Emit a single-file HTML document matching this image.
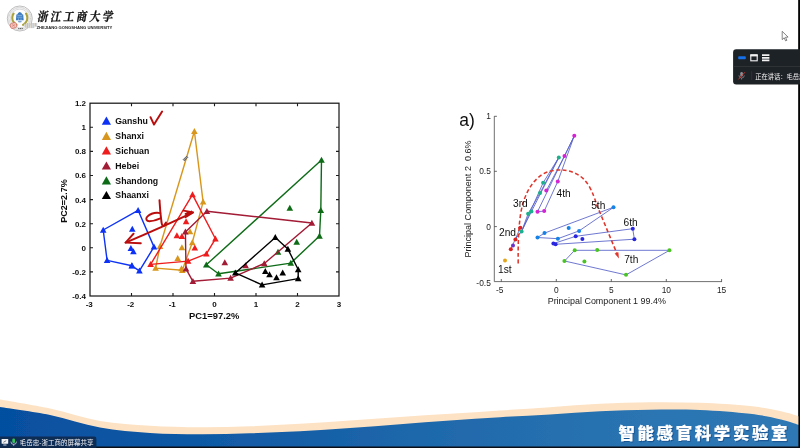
<!DOCTYPE html>
<html lang="zh"><head><meta charset="utf-8"><title>PCA</title>
<style>
html,body{margin:0;padding:0;background:#050505;}
body{width:800px;height:448px;overflow:hidden;position:relative;font-family:"Liberation Sans","Noto Sans CJK SC",sans-serif;}
svg{position:absolute;left:0;top:0;display:block}
text{font-family:"Liberation Sans","Noto Sans CJK SC",sans-serif}
.b{font-weight:bold}
.cj{font-family:"Liberation Sans","Noto Sans CJK SC",sans-serif}
.cs{font-family:"Liberation Serif","Noto Serif CJK SC",serif}
</style></head><body>
<svg width="800" height="448" viewBox="0 0 800 448">
<defs>
<linearGradient id="bg" x1="0" y1="0" x2="1" y2="0">
<stop offset="0" stop-color="#054f9f"/><stop offset="0.3" stop-color="#125ba6"/><stop offset="0.55" stop-color="#1f69ab"/><stop offset="0.8" stop-color="#2a74b2"/><stop offset="1" stop-color="#2f79b5"/>
</linearGradient>
<filter id="soft" x="-5%" y="-5%" width="110%" height="110%"><feGaussianBlur stdDeviation="0.6"/></filter>
<filter id="soft2" x="-20%" y="-20%" width="140%" height="140%"><feGaussianBlur stdDeviation="0.8"/></filter>
</defs>
<rect x="0" y="0" width="800" height="448" fill="#050505"/>
<rect x="0" y="0" width="798.4" height="446.5" fill="#ffffff"/>
<g filter="url(#soft)">

<path d="M0.00 399.50C8.33 401.00 33.33 404.92 50.00 408.50C66.67 412.08 83.33 418.12 100.00 421.00C116.67 423.88 133.33 424.75 150.00 425.80C166.67 426.85 183.33 427.22 200.00 427.30C216.67 427.38 233.33 426.88 250.00 426.30C266.67 425.72 283.33 424.77 300.00 423.80C316.67 422.83 333.33 421.63 350.00 420.50C366.67 419.37 383.33 418.12 400.00 417.00C416.67 415.88 433.33 414.88 450.00 413.80C466.67 412.72 483.33 411.60 500.00 410.50C516.67 409.40 533.33 408.32 550.00 407.20C566.67 406.08 583.33 404.63 600.00 403.80C616.67 402.97 633.33 402.37 650.00 402.20C666.67 402.03 683.33 402.17 700.00 402.80C716.67 403.43 736.50 404.58 750.00 406.00C763.50 407.42 772.93 409.58 781.00 411.30C789.07 413.02 795.50 415.47 798.40 416.30L806 417L806 455L-6 455L-6 399Z" fill="#fde2c4"/>
<path d="M0.00 407.00C8.33 408.33 33.33 411.58 50.00 415.00C66.67 418.42 83.33 424.50 100.00 427.50C116.67 430.50 133.33 431.87 150.00 433.00C166.67 434.13 183.33 434.25 200.00 434.30C216.67 434.35 233.33 433.80 250.00 433.30C266.67 432.80 283.33 432.18 300.00 431.30C316.67 430.42 333.33 429.17 350.00 428.00C366.67 426.83 383.33 425.55 400.00 424.30C416.67 423.05 433.33 421.68 450.00 420.50C466.67 419.32 483.33 418.22 500.00 417.20C516.67 416.18 533.33 415.38 550.00 414.40C566.67 413.42 583.33 412.08 600.00 411.30C616.67 410.52 633.33 409.92 650.00 409.70C666.67 409.48 683.33 409.32 700.00 410.00C716.67 410.68 736.50 412.23 750.00 413.80C763.50 415.37 772.93 417.58 781.00 419.40C789.07 421.22 795.50 423.82 798.40 424.70L806 426L806 455L-6 455L-6 406Z" fill="url(#bg)"/>
<text x="618.4" y="439.1" font-size="16.4" font-weight="900" fill="#0a3a78" stroke="#0a3a78" stroke-width="0.3" opacity="0.5" letter-spacing="2.7" class="cj" transform="translate(0.9,0.9)">智能感官科学实验室</text>
<text x="618.4" y="439.1" font-size="16.4" font-weight="900" fill="#ffffff" stroke="#ffffff" stroke-width="0.2" letter-spacing="2.7" class="cj">智能感官科学实验室</text>
<g>
<circle cx="19.8" cy="18.5" r="12.5" fill="#fdfdfd" stroke="#a4a4a4" stroke-width="0.7"/>
<circle cx="19.8" cy="18.5" r="10.9" fill="none" stroke="#8f8f8f" stroke-width="1.5" stroke-dasharray="0.55 0.5" opacity="0.5"/>
<circle cx="19.8" cy="18.5" r="9.4" fill="none" stroke="#b5b5b5" stroke-width="0.5"/>
<path d="M13.6 13.6C11.2 17.2 12 22.2 16.6 24.8" fill="none" stroke="#a9a23c" stroke-width="2.1" stroke-linecap="round" stroke-dasharray="1.6 0.5"/>
<path d="M26 13.6C28.4 17.2 27.6 22.2 23 24.8" fill="none" stroke="#a9a23c" stroke-width="2.1" stroke-linecap="round" stroke-dasharray="1.6 0.5"/>
<path d="M15.9 20.2L16.4 14.6L17.6 14.2L18 12.9L19.8 12L21.6 12.9L22 14.2L23.2 14.6L23.7 20.2Z" fill="#3b7cc2"/>
<path d="M17.4 15.4h4.8M17.2 17.2h5.2M18.6 18.4v1.8M21 18.4v1.8" stroke="#b9d3ee" stroke-width="0.55" fill="none"/>
<ellipse cx="19.8" cy="21.6" rx="2" ry="0.9" fill="#7fa6d2"/>
<rect x="10.4" y="22.9" width="6.2" height="5.2" rx="1.6" fill="#eec3bb" stroke="#d4665a" stroke-width="0.7" transform="rotate(-18 13.5 25.5)"/>
<path d="M12 24.6l3 1.6M12.4 26.6l2.2-2.4" stroke="#d4665a" stroke-width="0.5"/>
<path d="M18.2 28.6h1.3M20 28.6h1.3M21.8 28.6h1" stroke="#555" stroke-width="1" fill="none"/>
</g>
<text x="0" y="0" font-size="10.5" font-weight="700" fill="#0c0c0c" stroke="#0c0c0c" stroke-width="0.25" class="cs" letter-spacing="2.5" transform="translate(37.0 21.3) skewX(-10) scale(1 1.17)">浙江工商大学</text>
<text x="36.4" y="28.6" font-size="4.35" font-weight="bold" fill="#1a1a1a" textLength="76" lengthAdjust="spacingAndGlyphs">ZHEJIANG GONGSHANG UNIVERSITY</text>
<g opacity="0.92">
<rect x="24.20" y="23.8" width="1.05" height="3.6" fill="#d6d9dc"/>
<rect x="25.20" y="23.8" width="1.05" height="3.6" fill="#b4bdcb"/>
<rect x="26.20" y="23.0" width="1.05" height="5.1" fill="#dcd3c0"/>
<rect x="27.20" y="23.0" width="1.05" height="5.1" fill="#a7b6cc"/>
<rect x="28.20" y="23.0" width="1.05" height="5.1" fill="#d3d6d9"/>
<rect x="29.20" y="23.0" width="1.05" height="5.1" fill="#bcc3cd"/>
<rect x="30.20" y="23.0" width="1.05" height="5.1" fill="#ddd6c6"/>
<rect x="31.20" y="23.0" width="1.05" height="5.1" fill="#adbace"/>
<rect x="32.20" y="23.0" width="1.05" height="5.1" fill="#c8ccd0"/>
<rect x="33.20" y="23.0" width="1.05" height="5.1" fill="#b6bfcc"/>
<rect x="34.20" y="23.0" width="1.05" height="3.6" fill="#d3cec1"/>
<rect x="35.20" y="23.0" width="1.05" height="3.6" fill="#a3b1c6"/>
<rect x="36.20" y="23.0" width="1.05" height="3.6" fill="#c9cdd2"/>
</g>
<rect x="90.0" y="103.2" width="249.0" height="192.8" fill="none" stroke="#1a1a1a" stroke-width="1.25"/>
<path d="M131.50 296.00v-3M131.50 103.20v3M173.00 296.00v-3M173.00 103.20v3M214.50 296.00v-3M214.50 103.20v3M256.00 296.00v-3M256.00 103.20v3M297.50 296.00v-3M297.50 103.20v3M90.00 127.30h3M339.00 127.30h-3M90.00 151.40h3M339.00 151.40h-3M90.00 175.50h3M339.00 175.50h-3M90.00 199.60h3M339.00 199.60h-3M90.00 223.70h3M339.00 223.70h-3M90.00 247.80h3M339.00 247.80h-3M90.00 271.90h3M339.00 271.90h-3" stroke="#1a1a1a" stroke-width="1.1" fill="none"/>
<text x="86" y="106.10" font-size="8.0" class="b" fill="#111" text-anchor="end">1.2</text>
<text x="86" y="130.20" font-size="8.0" class="b" fill="#111" text-anchor="end">1</text>
<text x="86" y="154.30" font-size="8.0" class="b" fill="#111" text-anchor="end">0.8</text>
<text x="86" y="178.40" font-size="8.0" class="b" fill="#111" text-anchor="end">0.6</text>
<text x="86" y="202.50" font-size="8.0" class="b" fill="#111" text-anchor="end">0.4</text>
<text x="86" y="226.60" font-size="8.0" class="b" fill="#111" text-anchor="end">0.2</text>
<text x="86" y="250.70" font-size="8.0" class="b" fill="#111" text-anchor="end">0</text>
<text x="86" y="274.80" font-size="8.0" class="b" fill="#111" text-anchor="end">-0.2</text>
<text x="86" y="298.90" font-size="8.0" class="b" fill="#111" text-anchor="end">-0.4</text>
<text x="89.20" y="307.4" font-size="8.0" class="b" fill="#111" text-anchor="middle">-3</text>
<text x="130.70" y="307.4" font-size="8.0" class="b" fill="#111" text-anchor="middle">-2</text>
<text x="172.20" y="307.4" font-size="8.0" class="b" fill="#111" text-anchor="middle">-1</text>
<text x="214.50" y="307.4" font-size="8.0" class="b" fill="#111" text-anchor="middle">0</text>
<text x="256.00" y="307.4" font-size="8.0" class="b" fill="#111" text-anchor="middle">1</text>
<text x="297.50" y="307.4" font-size="8.0" class="b" fill="#111" text-anchor="middle">2</text>
<text x="339.00" y="307.4" font-size="8.0" class="b" fill="#111" text-anchor="middle">3</text>
<text x="214.2" y="318.7" font-size="9.4" class="b" fill="#111" text-anchor="middle">PC1=97.2%</text>
<text transform="translate(67.4 201) rotate(-90)" font-size="9" class="b" fill="#111" text-anchor="middle">PC2=2.7%</text>
<path d="M101.80 124.79L111.00 124.79L106.40 116.59Z" fill="#0a32f5"/>
<text x="115.3" y="124.00" font-size="8.75" class="b" fill="#111">Ganshu</text>
<path d="M101.80 139.89L111.00 139.89L106.40 131.69Z" fill="#d8961c"/>
<text x="115.3" y="139.10" font-size="8.75" class="b" fill="#111">Shanxi</text>
<path d="M101.80 154.49L111.00 154.49L106.40 146.29Z" fill="#ee1c1c"/>
<text x="115.3" y="153.70" font-size="8.75" class="b" fill="#111">Sichuan</text>
<path d="M101.80 169.59L111.00 169.59L106.40 161.39Z" fill="#a21a34"/>
<text x="115.3" y="168.80" font-size="8.75" class="b" fill="#111">Hebei</text>
<path d="M101.80 184.39L111.00 184.39L106.40 176.19Z" fill="#0b6b16"/>
<text x="115.3" y="183.60" font-size="8.75" class="b" fill="#111">Shandong</text>
<path d="M101.80 199.09L111.00 199.09L106.40 190.89Z" fill="#000"/>
<text x="115.3" y="198.30" font-size="8.75" class="b" fill="#111">Shaanxi</text>
<path d="M155.60 268.10L160.00 246.30L194.40 131.30L203.10 201.90L192.30 242.50L182.30 270.30Z" fill="none" stroke="#d8961c" stroke-width="1.40" stroke-linejoin="round"/>
<path d="M152.30 270.80L158.90 270.80L155.60 264.80Z" fill="#d8961c"/>
<path d="M156.70 249.00L163.30 249.00L160.00 243.00Z" fill="#d8961c"/>
<path d="M191.10 134.00L197.70 134.00L194.40 128.00Z" fill="#d8961c"/>
<path d="M199.80 204.60L206.40 204.60L203.10 198.60Z" fill="#d8961c"/>
<path d="M189.00 245.20L195.60 245.20L192.30 239.20Z" fill="#d8961c"/>
<path d="M179.00 273.00L185.60 273.00L182.30 267.00Z" fill="#d8961c"/>
<path d="M186.70 234.30L193.30 234.30L190.00 228.30Z" fill="#d8961c"/>
<path d="M178.60 250.20L185.20 250.20L181.90 244.20Z" fill="#d8961c"/>
<path d="M174.40 261.00L181.00 261.00L177.70 255.00Z" fill="#d8961c"/>
<path d="M178.20 271.30L184.80 271.30L181.50 265.30Z" fill="#d8961c"/>
<path d="M103.20 230.00L138.10 210.30L154.00 246.90L139.40 270.90L131.90 265.80L107.10 260.40Z" fill="none" stroke="#0a32f5" stroke-width="1.40" stroke-linejoin="round"/>
<path d="M99.90 232.70L106.50 232.70L103.20 226.70Z" fill="#0a32f5"/>
<path d="M134.80 213.00L141.40 213.00L138.10 207.00Z" fill="#0a32f5"/>
<path d="M150.70 249.60L157.30 249.60L154.00 243.60Z" fill="#0a32f5"/>
<path d="M136.10 273.60L142.70 273.60L139.40 267.60Z" fill="#0a32f5"/>
<path d="M128.60 268.50L135.20 268.50L131.90 262.50Z" fill="#0a32f5"/>
<path d="M103.80 263.10L110.40 263.10L107.10 257.10Z" fill="#0a32f5"/>
<path d="M129.00 231.80L135.60 231.80L132.30 225.80Z" fill="#0a32f5"/>
<path d="M127.60 251.10L134.20 251.10L130.90 245.10Z" fill="#0a32f5"/>
<path d="M130.10 254.30L136.70 254.30L133.40 248.30Z" fill="#0a32f5"/>
<path d="M128.60 268.30L135.20 268.30L131.90 262.30Z" fill="#0a32f5"/>
<path d="M206.30 264.80L321.50 160.10L320.80 210.30L319.50 236.00L290.80 263.10L218.50 273.80Z" fill="none" stroke="#0b6b16" stroke-width="1.40" stroke-linejoin="round"/>
<path d="M203.00 267.50L209.60 267.50L206.30 261.50Z" fill="#0b6b16"/>
<path d="M318.20 162.80L324.80 162.80L321.50 156.80Z" fill="#0b6b16"/>
<path d="M317.50 213.00L324.10 213.00L320.80 207.00Z" fill="#0b6b16"/>
<path d="M316.20 238.70L322.80 238.70L319.50 232.70Z" fill="#0b6b16"/>
<path d="M287.50 265.80L294.10 265.80L290.80 259.80Z" fill="#0b6b16"/>
<path d="M215.20 276.50L221.80 276.50L218.50 270.50Z" fill="#0b6b16"/>
<path d="M286.50 210.80L293.10 210.80L289.80 204.80Z" fill="#0b6b16"/>
<path d="M293.40 244.80L300.00 244.80L296.70 238.80Z" fill="#0b6b16"/>
<path d="M274.70 254.80L281.30 254.80L278.00 248.80Z" fill="#0b6b16"/>
<path d="M206.90 211.30L311.90 223.00L264.30 263.50L230.60 278.10L192.90 281.30L186.00 268.80L185.40 231.90Z" fill="none" stroke="#a21a34" stroke-width="1.40" stroke-linejoin="round"/>
<path d="M203.60 214.00L210.20 214.00L206.90 208.00Z" fill="#a21a34"/>
<path d="M308.60 225.70L315.20 225.70L311.90 219.70Z" fill="#a21a34"/>
<path d="M261.00 266.20L267.60 266.20L264.30 260.20Z" fill="#a21a34"/>
<path d="M227.30 280.80L233.90 280.80L230.60 274.80Z" fill="#a21a34"/>
<path d="M189.60 284.00L196.20 284.00L192.90 278.00Z" fill="#a21a34"/>
<path d="M182.70 271.50L189.30 271.50L186.00 265.50Z" fill="#a21a34"/>
<path d="M182.10 234.60L188.70 234.60L185.40 228.60Z" fill="#a21a34"/>
<path d="M221.50 265.20L228.10 265.20L224.80 259.20Z" fill="#a21a34"/>
<path d="M242.30 268.20L248.90 268.20L245.60 262.20Z" fill="#a21a34"/>
<path d="M150.60 264.40L192.50 194.60L215.40 238.80L206.40 253.80L188.10 261.10Z" fill="none" stroke="#ee1c1c" stroke-width="1.40" stroke-linejoin="round"/>
<path d="M147.30 267.10L153.90 267.10L150.60 261.10Z" fill="#ee1c1c"/>
<path d="M189.20 197.30L195.80 197.30L192.50 191.30Z" fill="#ee1c1c"/>
<path d="M212.10 241.50L218.70 241.50L215.40 235.50Z" fill="#ee1c1c"/>
<path d="M203.10 256.50L209.70 256.50L206.40 250.50Z" fill="#ee1c1c"/>
<path d="M184.80 263.80L191.40 263.80L188.10 257.80Z" fill="#ee1c1c"/>
<path d="M182.80 224.30L189.40 224.30L186.10 218.30Z" fill="#ee1c1c"/>
<path d="M173.60 238.30L180.20 238.30L176.90 232.30Z" fill="#ee1c1c"/>
<path d="M178.60 239.00L185.20 239.00L181.90 233.00Z" fill="#ee1c1c"/>
<path d="M191.50 250.50L198.10 250.50L194.80 244.50Z" fill="#ee1c1c"/>
<path d="M235.30 272.90L275.30 237.40L287.90 249.10L298.20 269.50L298.20 278.60L262.10 284.90Z" fill="none" stroke="#000" stroke-width="1.40" stroke-linejoin="round"/>
<path d="M232.00 275.60L238.60 275.60L235.30 269.60Z" fill="#000"/>
<path d="M272.00 240.10L278.60 240.10L275.30 234.10Z" fill="#000"/>
<path d="M284.60 251.80L291.20 251.80L287.90 245.80Z" fill="#000"/>
<path d="M294.90 272.20L301.50 272.20L298.20 266.20Z" fill="#000"/>
<path d="M294.90 281.30L301.50 281.30L298.20 275.30Z" fill="#000"/>
<path d="M258.80 287.60L265.40 287.60L262.10 281.60Z" fill="#000"/>
<path d="M262.00 273.90L268.60 273.90L265.30 267.90Z" fill="#000"/>
<path d="M266.20 277.30L272.80 277.30L269.50 271.30Z" fill="#000"/>
<path d="M273.20 280.30L279.80 280.30L276.50 274.30Z" fill="#000"/>
<path d="M279.40 275.40L286.00 275.40L282.70 269.40Z" fill="#000"/>
<g fill="none" stroke="#b90c0c" stroke-width="1.95" stroke-linecap="round" stroke-linejoin="round">
<path d="M150.5 117.2L154 124.6L162.1 111.6"/>
<path d="M125.6 242.6C148 233.2 171 223 193 212.4"/>
<path d="M133.6 233.7L125.6 242.6L140.8 243.3"/>
<path d="M183.6 210.6L193 212.4L185.4 217.3M185.6 213.8L191.4 211.6M186.4 215.4L191.6 212.8"/>
<path d="M159.5 200.2C159.9 208 160.6 216 161.6 222.8C162.1 226 163.2 226.8 164.2 225.4L166 222.6"/>
<path d="M160.3 213.1C156 212.4 150.5 213.6 147.3 216.6C145.2 218.8 146.5 221.2 149.4 221.2C153 221.2 157 220 160.4 218.4"/>
</g>
<path d="M183.2 159.6L186.6 156.2L187.8 157.4L184.4 160.8Z" fill="#999" stroke="#444" stroke-width="0.7"/>
<path d="M494.3 116.2V281.6H722" fill="none" stroke="#555" stroke-width="0.85"/>
<path d="M494.3 116.3h2.6M494.3 171.3h2.6M494.3 226.6h2.6M501.3 281.6v-2.6M556.3 281.6v-2.6M611.3 281.6v-2.6M666.3 281.6v-2.6M721.6 281.6v-2.6" stroke="#444" stroke-width="0.8" fill="none"/>
<text x="490.8" y="119.3" font-size="8.4" fill="#222" text-anchor="end">1</text>
<text x="490.8" y="174.3" font-size="8.4" fill="#222" text-anchor="end">0.5</text>
<text x="490.8" y="230.0" font-size="8.4" fill="#222" text-anchor="end">0</text>
<text x="490.8" y="286.3" font-size="8.4" fill="#222" text-anchor="end">-0.5</text>
<text x="499.8" y="293.2" font-size="8.4" fill="#222" text-anchor="middle">-5</text>
<text x="556.3" y="293.2" font-size="8.4" fill="#222" text-anchor="middle">0</text>
<text x="611.3" y="293.2" font-size="8.4" fill="#222" text-anchor="middle">5</text>
<text x="666.3" y="293.2" font-size="8.4" fill="#222" text-anchor="middle">10</text>
<text x="721.6" y="293.2" font-size="8.4" fill="#222" text-anchor="middle">15</text>
<text x="606.8" y="303.8" font-size="8.95" fill="#222" text-anchor="middle">Principal Component 1 99.4%</text>
<text transform="translate(471.0 199) rotate(-90)" font-size="9.05" fill="#222" text-anchor="middle" xml:space="preserve">Principal Component 2  0.6%</text>
<text x="459.3" y="125.6" font-size="17.5" fill="#111">a)</text>
<path d="M510.80 249.30L520.30 227.80" fill="none" stroke="#5560c8" stroke-width="0.85" stroke-linejoin="round"/>
<path d="M515.30 238.80L521.60 231.40L543.10 182.80L558.80 157.50L531.40 211.60L521.60 231.40Z" fill="none" stroke="#5560c8" stroke-width="0.85" stroke-linejoin="round"/>
<path d="M521.60 231.40L528.10 213.80L540.00 193.00L558.80 157.50" fill="none" stroke="#5560c8" stroke-width="0.85" stroke-linejoin="round"/>
<path d="M537.50 211.70L574.30 135.80L557.80 181.40L544.20 211.10Z" fill="none" stroke="#5560c8" stroke-width="0.85" stroke-linejoin="round"/>
<path d="M546.30 190.60L564.50 156.00L574.30 135.80" fill="none" stroke="#5560c8" stroke-width="0.85" stroke-linejoin="round"/>
<path d="M537.50 237.50L544.50 233.10L613.70 207.20L579.10 230.90L557.90 238.70Z" fill="none" stroke="#5560c8" stroke-width="0.85" stroke-linejoin="round"/>
<path d="M553.40 243.60L575.70 236.30L632.70 228.70L634.40 239.20L555.60 244.30Z" fill="none" stroke="#5560c8" stroke-width="0.85" stroke-linejoin="round"/>
<path d="M564.60 261.00L574.60 250.30L669.50 250.30L626.00 274.90Z" fill="none" stroke="#5560c8" stroke-width="0.85" stroke-linejoin="round"/>
<path d="M518.2 263.5C518 245 518.3 230 520.6 214C523.5 196 531 182 541.9 174.7C549 170.3 557 169.6 562.5 170C572 170.8 582 174.5 588.8 185.6C593 193 595 199 596.3 203.8L616.8 253.2" fill="none" stroke="#e0352b" stroke-width="1.55" stroke-dasharray="4 2.5"/>
<path d="M618.9 258.4L614.6 253.6L618.4 252.2Z" fill="#e0352b"/>
<circle cx="505.00" cy="260.50" r="2.00" fill="#e2a51a"/>
<circle cx="520.30" cy="227.80" r="2.00" fill="#dd2222"/>
<circle cx="515.40" cy="239.40" r="2.00" fill="#dd2222"/>
<circle cx="513.00" cy="245.60" r="2.00" fill="#6a32c8"/>
<circle cx="510.80" cy="249.30" r="2.00" fill="#dd2222"/>
<circle cx="521.60" cy="231.40" r="2.00" fill="#1fb08c"/>
<circle cx="528.10" cy="213.80" r="2.00" fill="#1fb08c"/>
<circle cx="531.40" cy="211.60" r="2.00" fill="#1fb08c"/>
<circle cx="540.00" cy="193.00" r="2.00" fill="#1fb08c"/>
<circle cx="543.10" cy="182.80" r="2.00" fill="#1fb08c"/>
<circle cx="558.80" cy="157.50" r="2.00" fill="#1fb08c"/>
<circle cx="537.50" cy="211.70" r="2.00" fill="#d422d4"/>
<circle cx="544.20" cy="211.10" r="2.00" fill="#d422d4"/>
<circle cx="546.30" cy="190.60" r="2.00" fill="#d422d4"/>
<circle cx="557.80" cy="181.40" r="2.00" fill="#d422d4"/>
<circle cx="564.50" cy="156.00" r="2.00" fill="#d422d4"/>
<circle cx="574.30" cy="135.80" r="2.00" fill="#d422d4"/>
<circle cx="537.50" cy="237.50" r="2.00" fill="#1282e6"/>
<circle cx="544.50" cy="233.10" r="2.00" fill="#1282e6"/>
<circle cx="568.70" cy="228.00" r="2.00" fill="#1282e6"/>
<circle cx="579.10" cy="230.90" r="2.00" fill="#1282e6"/>
<circle cx="557.90" cy="238.70" r="2.00" fill="#1282e6"/>
<circle cx="613.50" cy="207.20" r="2.00" fill="#1282e6"/>
<circle cx="575.70" cy="236.30" r="2.00" fill="#2a26e0"/>
<circle cx="582.40" cy="238.90" r="2.00" fill="#2a26e0"/>
<circle cx="553.40" cy="243.60" r="2.00" fill="#2a26e0"/>
<circle cx="555.60" cy="244.30" r="2.00" fill="#2a26e0"/>
<circle cx="632.80" cy="228.70" r="2.00" fill="#2a26e0"/>
<circle cx="634.40" cy="239.20" r="2.00" fill="#2a26e0"/>
<circle cx="574.70" cy="250.30" r="2.00" fill="#48c424"/>
<circle cx="597.20" cy="250.00" r="2.00" fill="#48c424"/>
<circle cx="669.40" cy="250.30" r="2.00" fill="#48c424"/>
<circle cx="626.00" cy="274.70" r="2.00" fill="#48c424"/>
<circle cx="564.40" cy="261.00" r="2.00" fill="#48c424"/>
<circle cx="584.40" cy="261.40" r="2.00" fill="#48c424"/>
<text x="498.0" y="272.9" font-size="10.2" fill="#111">1st</text>
<text x="499.0" y="236.0" font-size="10.2" fill="#111">2nd</text>
<text x="513.0" y="206.8" font-size="10.2" fill="#111">3rd</text>
<text x="556.6" y="197.4" font-size="10.2" fill="#111">4th</text>
<text x="591.2" y="209.0" font-size="10.2" fill="#111">5th</text>
<text x="623.5" y="225.8" font-size="10.2" fill="#111">6th</text>
<text x="624.2" y="263.3" font-size="10.2" fill="#111">7th</text>
</g>
<rect x="798.4" y="0" width="2" height="448" fill="#050505"/><rect x="0" y="446.5" width="800" height="2" fill="#0a0f18"/>
<g filter="url(#soft)">
<path d="M736.3 49.2H800V84.4H736.3a3.2 3.2 0 0 1 -3.2 -3.2V52.4a3.2 3.2 0 0 1 3.2 -3.2Z" fill="#1e2126"/>
<rect x="733.1" y="66.3" width="67" height="0.7" fill="#34383e"/>
<rect x="738.2" y="56.2" width="7.6" height="3" rx="0.8" fill="#1670e8"/>
<rect x="750.8" y="55.2" width="6.4" height="5.6" fill="none" stroke="#f2f2f2" stroke-width="1.1"/><rect x="750.3" y="54.2" width="7.4" height="2.2" fill="#f2f2f2"/>
<path d="M762 55.2h7.4M762 57.8h7.4M762 60.4h7.4" stroke="#f2f2f2" stroke-width="1.7"/>
<rect x="740.3" y="72" width="2.6" height="4.6" rx="1.3" fill="#8d9096"/>
<path d="M738.9 75.3a2.7 2.7 0 0 0 5.4 0M741.6 78v1.6" fill="none" stroke="#8d9096" stroke-width="0.7"/>
<path d="M738.4 79.4L745 72.2" stroke="#e0362c" stroke-width="0.9"/>
<rect x="751.5" y="71.2" width="0.6" height="9" fill="#3a3e44"/>
<text x="755.2" y="78.5" font-size="6.25" fill="#f4f4f4" class="cj">正在讲话：毛岳忠-浙工商</text>
<path d="M0 436.5H94a2.4 2.4 0 0 1 2.4 2.4V448H0Z" fill="#10284e" opacity="0.9"/>
<rect x="1.6" y="439" width="6.6" height="4.8" rx="0.6" fill="#f4f4f4"/><rect x="3.3" y="444.6" width="3.2" height="0.8" fill="#f4f4f4"/><path d="M3.4 442.3l2.8-1.6" stroke="#14233c" stroke-width="0.6"/>
<rect x="12.3" y="438.4" width="2.8" height="4.8" rx="1.4" fill="#35c25a"/><path d="M10.9 441.6a2.8 2.8 0 0 0 5.6 0M13.7 444.4v1.4" fill="none" stroke="#e8e8e8" stroke-width="0.7"/>
<text x="19.8" y="445" font-size="6.5" fill="#f4f4f4" class="cj">毛岳忠-浙工商的屏幕共享</text>
<path d="M782.2 31.3V39.6L784.2 37.8L785.6 40.9L786.9 40.3L785.5 37.3L788.1 37.1Z" fill="#fdfdfd" stroke="#555" stroke-width="0.7" stroke-linejoin="round"/>
</g>
</svg>
</body></html>
